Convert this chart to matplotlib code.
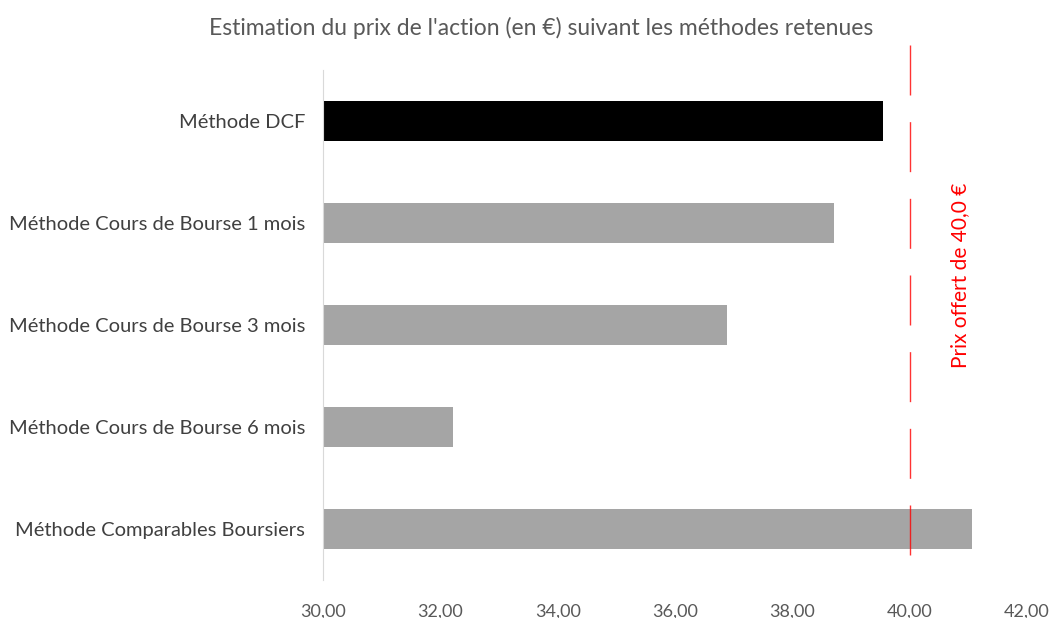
import matplotlib
matplotlib.use("Agg")
import matplotlib.pyplot as plt
from matplotlib.ticker import FuncFormatter

plt.rcParams['font.family'] = ['Lato', 'DejaVu Sans']

methodes = ['Méthode DCF', 'Méthode Cours de Bourse 1 mois', 'Méthode Cours de Bourse 3 mois',
            'Méthode Cours de Bourse 6 mois', 'Méthode Comparables Boursiers']
prix = [39.55, 38.70, 36.88, 32.22, 41.06]
couleurs = ['#000000', '#a5a5a5', '#a5a5a5', '#a5a5a5', '#a5a5a5']
prix_offert = 40.0

fig = plt.figure(figsize=(10.54, 6.18), dpi=100)
ax = fig.add_axes([0.3065, 0.0615, 0.668, 0.825])

pos = list(range(len(methodes)))
ax.barh(pos, [p - 30 for p in prix], left=30, height=0.39, color=couleurs)
ax.set_ylim(4.5, -0.5)
ax.set_xlim(30, 42)
ax.set_xticks([30, 32, 34, 36, 38, 40, 42])
ax.xaxis.set_major_formatter(FuncFormatter(lambda v, p: ('%.2f' % v).replace('.', ',')))
ax.set_yticks(pos)
ax.set_yticklabels(methodes, fontsize=14.5, color='#404040')

# ligne du prix offert (du haut vers le bas)
ax.plot([prix_offert, prix_offert], [-0.745, 4.255], color='#ff0000', lw=1,
        dashes=(36, 19.2), clip_on=False, alpha=0.8)
ax.text(40.86, 1.51, 'Prix offert de 40,0 €', rotation=90, color='#ff0000',
        fontsize=15, ha='center', va='center')

for s in ['top', 'right', 'bottom']:
    ax.spines[s].set_visible(False)
ax.spines['left'].set_color('#d9d9d9')
ax.tick_params(axis='y', length=0, pad=13)
ax.tick_params(axis='x', length=0, labelsize=13, labelcolor='#595959', pad=17)

fig.text(0.513, 0.955, "Estimation du prix de l'action (en €) suivant les méthodes retenues",
         ha='center', va='center', fontsize=16.5, color='#595959')

fig.savefig('out.png', dpi=100)
